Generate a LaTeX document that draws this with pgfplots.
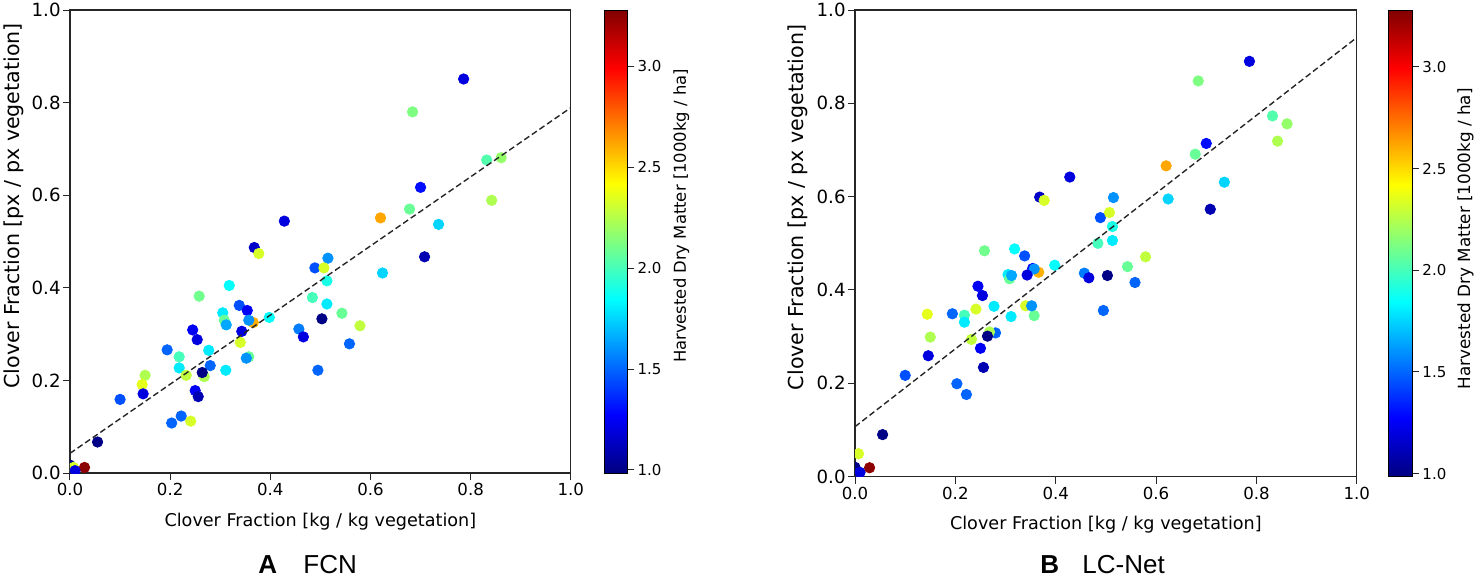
\documentclass[border=0pt]{standalone}
\usepackage{pgfplots}
\pgfplotsset{compat=1.18}
\usepackage{pgfplotstable}
\usepackage{fontspec}
\setmainfont{DejaVu Sans}
\newfontfamily\arial{Liberation Sans}

% x = clover fraction (kg/kg), y = predicted fraction (px/px), c = dry matter
\pgfplotstableread{
x y c
0.786 0.851 1.20
0.684 0.780 2.13
0.832 0.676 2.03
0.861 0.681 2.18
0.700 0.617 1.30
0.842 0.589 2.24
0.678 0.570 2.08
0.620 0.551 2.62
0.428 0.544 1.20
0.736 0.537 1.75
0.368 0.487 1.15
0.377 0.474 2.33
0.708 0.467 1.10
0.515 0.464 1.60
0.489 0.443 1.45
0.507 0.443 2.33
0.624 0.432 1.75
0.513 0.415 1.90
0.318 0.405 1.85
0.258 0.382 2.10
0.484 0.379 2.00
0.513 0.365 1.80
0.338 0.362 1.45
0.354 0.351 1.25
0.305 0.346 1.80
0.543 0.345 2.08
0.308 0.330 2.08
0.366 0.325 2.60
0.357 0.330 1.60
0.312 0.320 1.65
0.398 0.336 1.85
0.503 0.333 1.00
0.579 0.318 2.28
0.457 0.311 1.55
0.245 0.309 1.25
0.343 0.306 1.20
0.466 0.294 1.20
0.254 0.288 1.20
0.558 0.279 1.50
0.340 0.282 2.33
0.194 0.266 1.50
0.277 0.265 1.80
0.218 0.251 2.00
0.357 0.251 2.08
0.352 0.248 1.60
0.218 0.227 1.80
0.280 0.232 1.50
0.311 0.222 1.80
0.495 0.222 1.50
0.232 0.211 2.28
0.268 0.208 2.24
0.264 0.217 1.00
0.150 0.211 2.24
0.144 0.191 2.36
0.146 0.171 1.20
0.100 0.159 1.45
0.250 0.178 1.25
0.256 0.165 1.10
0.222 0.123 1.50
0.203 0.108 1.50
0.241 0.112 2.33
0.055 0.067 1.00
0.029 0.012 3.25
0.000 0.017 1.00
0.007 0.012 2.33
0.010 0.005 1.20
}\fcn

\pgfplotstableread{
x y c
0.786 0.890 1.20
0.684 0.848 2.13
0.832 0.773 2.03
0.861 0.756 2.18
0.700 0.714 1.30
0.842 0.719 2.24
0.678 0.691 2.08
0.620 0.666 2.62
0.428 0.642 1.20
0.736 0.631 1.75
0.368 0.599 1.15
0.377 0.592 2.33
0.708 0.573 1.10
0.515 0.598 1.60
0.489 0.555 1.45
0.507 0.566 2.33
0.624 0.595 1.75
0.513 0.536 1.90
0.318 0.488 1.85
0.258 0.484 2.10
0.484 0.500 2.00
0.513 0.506 1.80
0.338 0.473 1.45
0.354 0.446 1.25
0.305 0.433 1.80
0.543 0.450 2.08
0.308 0.424 2.08
0.366 0.438 2.60
0.357 0.445 1.60
0.312 0.431 1.65
0.398 0.453 1.85
0.503 0.431 1.00
0.579 0.471 2.28
0.457 0.436 1.55
0.245 0.408 1.25
0.343 0.432 1.20
0.466 0.426 1.20
0.254 0.388 1.20
0.558 0.416 1.50
0.340 0.366 2.33
0.194 0.349 1.50
0.277 0.365 1.80
0.218 0.346 2.00
0.357 0.345 2.08
0.352 0.366 1.60
0.218 0.331 1.80
0.280 0.308 1.50
0.311 0.343 1.80
0.495 0.356 1.50
0.232 0.294 2.28
0.268 0.310 2.24
0.264 0.301 1.00
0.150 0.299 2.24
0.144 0.348 2.36
0.146 0.259 1.20
0.100 0.217 1.45
0.250 0.275 1.25
0.256 0.234 1.10
0.222 0.176 1.50
0.203 0.199 1.50
0.241 0.359 2.33
0.055 0.090 1.00
0.029 0.019 3.25
0.000 0.020 1.00
0.007 0.049 2.33
0.010 0.009 1.20
}\lcnet

\pgfplotsset{
  clover/.style={
    scale only axis,
    xmin=0, xmax=1, ymin=0, ymax=1,
    xtick={0,0.2,0.4,0.6,0.8,1}, ytick={0,0.2,0.4,0.6,0.8,1},
    tick align=outside, major tick length=3.5pt,
    tick style={black!85, line width=0.5pt},
    axis line style={black!85, line width=0.6pt},
    xtick pos=bottom, ytick pos=left,
    /pgf/number format/assume math mode=true,
    xticklabel style={font=\fontsize{8.3}{10}\selectfont, inner sep=1.5pt,
      /pgf/number format/fixed, /pgf/number format/fixed zerofill, /pgf/number format/precision=1},
    yticklabel style={font=\fontsize{9.1}{10}\selectfont, inner sep=1pt,
      /pgf/number format/fixed, /pgf/number format/fixed zerofill, /pgf/number format/precision=1},
    xlabel={Clover Fraction [kg / kg vegetation]},
    ylabel={Clover Fraction [px / px vegetation]},
    every axis x label/.style={at={(axis description cs:0.5,-0.104)}, anchor=center,
      font=\fontsize{8.8}{10}\selectfont},
    every axis y label/.style={at={(axis description cs:-0.113,0.577)}, anchor=center, rotate=90,
      font=\fontsize{10.3}{12}\selectfont},
    colormap/jet,
    point meta min=0.985, point meta max=3.28,
    clip marker paths=true,
    colorbar,
  },
  cbar/.style={
    colorbar style={
      at={(parent axis.north east)}, anchor=north west,
      ytick={1,1.5,2,2.5,3},
      ytick pos=right, yticklabel pos=right,
      tick align=outside, major tick length=3.5pt,
      tick style={black!85, line width=0.5pt},
      axis line style={black, line width=0.5pt},
      /pgf/number format/assume math mode=true,
      yticklabel style={font=\fontsize{7.5}{9}\selectfont, inner sep=1.5pt,
        /pgf/number format/fixed, /pgf/number format/fixed zerofill, /pgf/number format/precision=1},
      ylabel={Harvested Dry Matter [1000kg / ha]},
      #1
    },
  },
  dots/.style={scatter, only marks, mark=*, mark size=2.6pt, scatter src=explicit,
    scatter/use mapped color={draw=mapped color, fill=mapped color}},
  fitline/.style={black!85, line width=0.7pt, dash pattern=on 3pt off 1.6pt},
}

\begin{document}
\begin{tikzpicture}
\path[use as bounding box] (0,0) rectangle (738pt,293pt);

\begin{axis}[clover, at={(35pt,56.5pt)}, anchor=south west,
  width=250.4pt, height=231.5pt,
  cbar={xshift=8.5pt, width=11.2pt,
    every axis y label/.style={at={(axis description cs:3.41,0.555)}, anchor=center, rotate=90,
      font=\fontsize{8.2}{10}\selectfont}}]
\addplot[dots] table[x=x, y=y, meta=c] {\fcn};
\addplot[fitline] coordinates {(0,0.0425) (1,0.789)};
\end{axis}

\begin{axis}[clover, at={(427.5pt,54.7pt)}, anchor=south west,
  width=250.9pt, height=233.3pt,
  cbar={xshift=7.5pt, width=11.6pt,
    every axis y label/.style={at={(axis description cs:3.30,0.51)}, anchor=center, rotate=90,
      font=\fontsize{8.4}{10}\selectfont}}]
\addplot[dots] table[x=x, y=y, meta=c] {\lcnet};
\addplot[fitline] coordinates {(0,0.107) (1,0.941)};
\end{axis}

\node[font=\arial\bfseries\fontsize{13}{14}\selectfont, anchor=base west, inner sep=0pt] at (129pt,6.5pt) {A};
\node[font=\arial\fontsize{13}{14}\selectfont, anchor=base west, inner sep=0pt] at (151.5pt,6.5pt) {FCN};
\node[font=\arial\bfseries\fontsize{13}{14}\selectfont, anchor=base west, inner sep=0pt] at (520pt,6.5pt) {B};
\node[font=\arial\fontsize{13}{14}\selectfont, anchor=base west, inner sep=0pt] at (541pt,6.5pt) {LC-Net};
\end{tikzpicture}
\end{document}
